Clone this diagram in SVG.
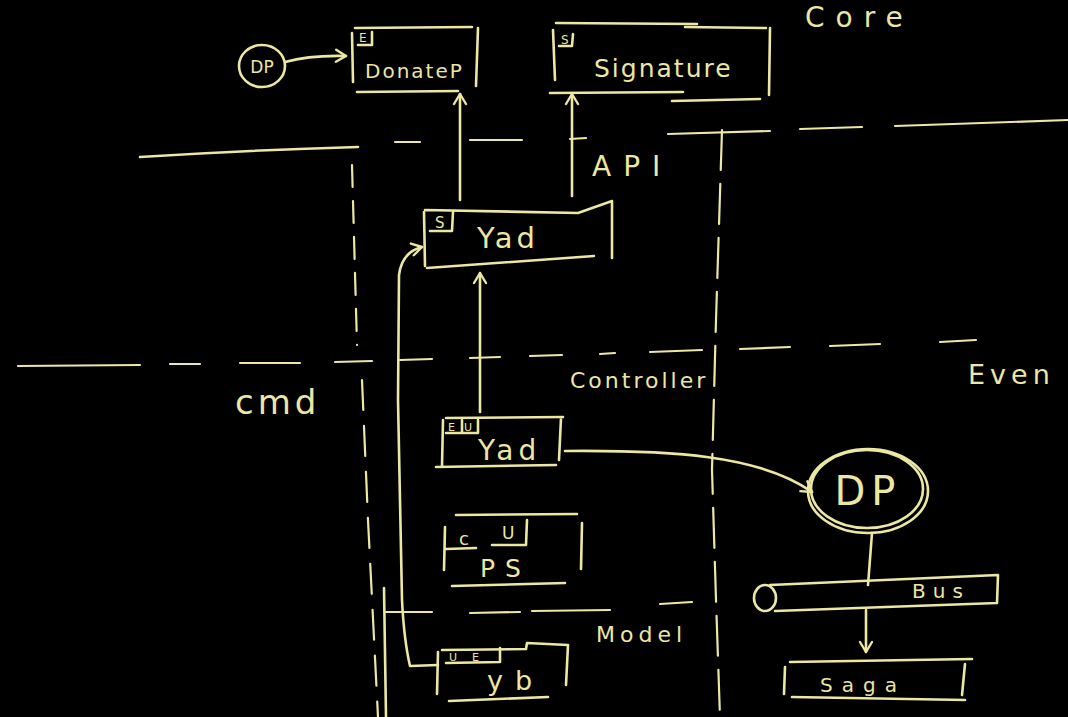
<svg xmlns="http://www.w3.org/2000/svg" width="1068" height="717" viewBox="0 0 1068 717">
<defs>
<style>
.s{fill:none;stroke:#ece7a2;stroke-width:2.6;stroke-linecap:round;stroke-linejoin:round}
.d{fill:none;stroke:#ece7a2;stroke-width:2.2;stroke-linecap:round}
.t{fill:#ece7a2;font-family:"DejaVu Sans",sans-serif}
.lbl{fill:#ece7a2;font-family:"DejaVu Sans",sans-serif}
</style>
<marker id="ah" markerWidth="16" markerHeight="16" refX="13" refY="8" orient="auto" markerUnits="userSpaceOnUse">
<path d="M3,2 L13,8 L3,14" fill="none" stroke="#ece7a2" stroke-width="2.4" stroke-linecap="round" stroke-linejoin="round"/>
</marker>
</defs>
<rect width="1068" height="717" fill="#000"/>

<g id="boundaries">
<path class="s" d="M140,157 Q250,150 358,147"/>
<path class="d" d="M395,142 L420,142 M470,140 L522,140 M570,139 L586,138 M668,134 L770,131 M800,129 L862,127 M895,126 L1068,120"/>
<path class="d" d="M18,366 L140,365 M170,364 L200,364 M240,363 L300,363 M335,362 L372,361 M400,360 L432,359 M470,358 L500,357 M530,356 L562,355 M600,354 L615,353 M650,352 L702,350 M740,349 L790,347 M830,346 L880,344 M940,342 L976,340"/>
<path class="d" d="M386,612 L432,612 M470,613 L520,612 M532,611 L610,610 M660,604 L692,602"/>
<path class="d" stroke-dasharray="22 14" d="M352,165 L357,345"/>
<path class="d" stroke-dasharray="30 16" d="M362,380 L368,520 L378,717"/>
<path class="s" d="M384,588 L386,717"/>
<path class="d" stroke-dasharray="40 14" d="M722,130 L716,320 L712,470 L716,600 L720,717"/>
</g>

<g id="labels">
<text class="t" x="805" y="27" font-size="28" letter-spacing="11">Core</text>
<text class="t" x="592" y="176" font-size="28" letter-spacing="12">API</text>
<text class="t" x="235" y="414" font-size="34" letter-spacing="4">cmd</text>
<text class="t" x="570" y="388" font-size="22" letter-spacing="3">Controller</text>
<text class="t" x="968" y="384" font-size="27" letter-spacing="5">Even</text>
<text class="t" x="596" y="642" font-size="22" letter-spacing="5">Model</text>
</g>

<g id="connectors">
<path class="s" d="M285,62 Q310,55 346,56" marker-end="url(#ah)"/>
<path class="s" d="M460,200 L460,94" marker-end="url(#ah)"/>
<path class="s" d="M572,196 L572,94" marker-end="url(#ah)"/>
<path class="s" d="M480,412 L480,273" marker-end="url(#ah)"/>
<path class="s" d="M438,665 L410,666 Q404,640 402,600 L398,400 L399,275 Q402,252 422,247" marker-end="url(#ah)"/>
<path class="s" d="M565,451 C670,450 760,455 812,492" marker-end="url(#ah)"/>
<path class="s" d="M872,533 L868,585"/>
<path class="s" d="M866,610 L866,652" marker-end="url(#ah)"/>
</g>

<g id="dp-small">
<ellipse class="s" cx="262" cy="66" rx="23" ry="21"/>
<text class="t" x="262" y="73" font-size="17" text-anchor="middle">DP</text>
</g>

<g id="donatep">
<path class="s" d="M352,33 L353,82 M355,28 L472,27 M478,28 L476,86 M357,92 L458,91"/>
<path class="s" d="M358,45 L372,45 L372,32"/>
<text class="lbl" x="359" y="42" font-size="12">E</text>
<text class="t" x="365" y="78" font-size="20" letter-spacing="2">DonateP</text>
</g>

<g id="signature">
<path class="s" d="M553,30 L555,80 M556,23 L697,24 M685,27 L766,28 M770,28 L769,95 M550,93 L683,92 M672,101 L760,99"/>
<path class="s" d="M559,46 L572,46 L573,34"/>
<text class="lbl" x="561" y="44" font-size="12">S</text>
<text class="t" x="594" y="77" font-size="25" letter-spacing="2">Signature</text>
</g>

<g id="yad-api">
<path class="s" d="M424,212 L425,266 M425,210 L578,213 L612,201 L612,258 M427,268 L594,256"/>
<path class="s" d="M430,231 L452,231 L453,212"/>
<text class="lbl" x="435" y="228" font-size="15">S</text>
<text class="t" x="477" y="248" font-size="29" letter-spacing="4">Yad</text>
</g>

<g id="yad-ctrl">
<path class="s" d="M443,420 L442,466 M446,418 L563,417 M561,418 L559,460 M436,467 L556,465"/>
<path class="s" d="M446,433 L478,433 L478,420 M462,420 L462,433"/>
<text class="lbl" x="448" y="431" font-size="11">E</text>
<text class="lbl" x="464" y="431" font-size="11">U</text>
<text class="t" x="478" y="460" font-size="28" letter-spacing="5">Yad</text>
</g>

<g id="ps">
<path class="s" d="M445,527 L444,570 M446,549 L476,548 M456,515 L577,514 M582,523 L581,569 M452,586 L565,583"/>
<path class="s" d="M492,545 L526,545 L527,520"/>
<text class="lbl" x="459" y="545" font-size="18">c</text>
<text class="lbl" x="502" y="539" font-size="17">U</text>
<text class="t" x="480" y="577" font-size="25" letter-spacing="10">PS</text>
</g>

<g id="yb">
<path class="s" d="M438,652 L437,694 M442,650 L526,649 L527,643 L568,645 L566,685 M449,701 L548,697"/>
<path class="s" d="M446,663 L500,662 L500,648"/>
<text class="lbl" x="449" y="661" font-size="11">U</text>
<text class="lbl" x="472" y="661" font-size="11">E</text>
<text class="t" x="487" y="690" font-size="27" letter-spacing="12">yb</text>
</g>

<g id="dp-large">
<ellipse class="s" cx="868" cy="491" rx="60" ry="42"/>
<ellipse class="s" cx="867" cy="489" rx="56" ry="39"/>
<text class="t" x="868" y="505" font-size="40" text-anchor="middle" letter-spacing="6">DP</text>
</g>

<g id="bus">
<ellipse class="s" cx="765" cy="598" rx="11" ry="13"/>
<path class="s" d="M770,585 L998,575 L997,603 L775,611"/>
<text class="t" x="912" y="598" font-size="20" letter-spacing="7">Bus</text>
</g>

<g id="saga">
<path class="s" d="M785,667 L784,694 M790,662 L972,659 M965,664 L962,695 M792,697 L965,700"/>
<text class="t" x="820" y="692" font-size="20" letter-spacing="9">Saga</text>
</g>
</svg>
